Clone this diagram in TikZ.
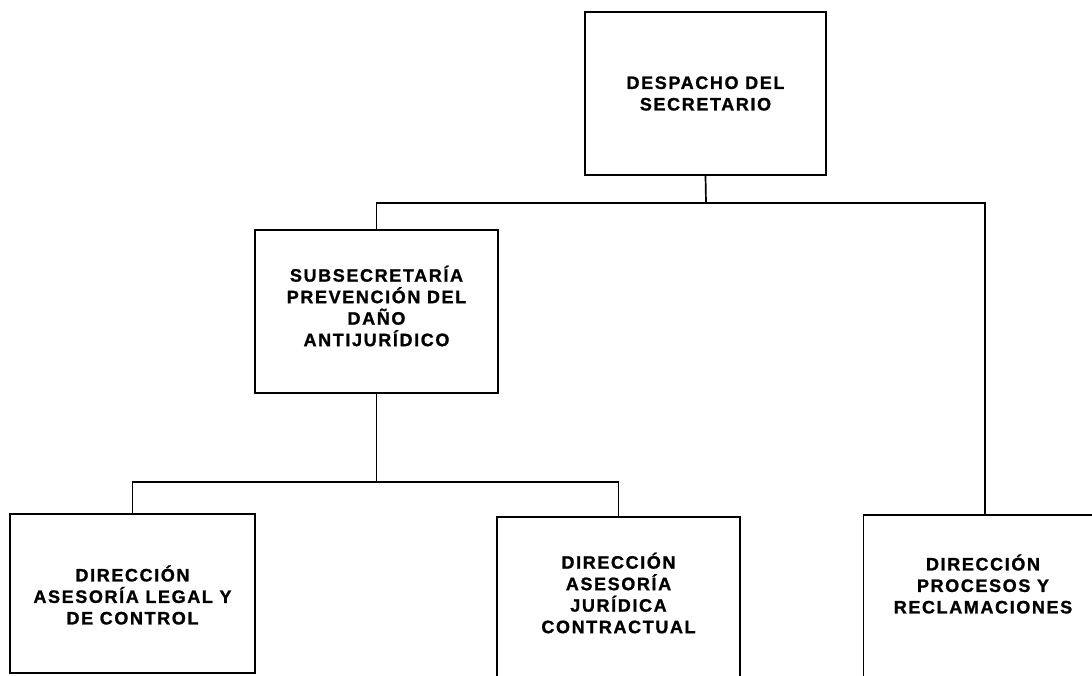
\documentclass[tikz,border=0pt]{standalone}
\usepackage{fontspec}
\newfontfamily\boxfont[LetterSpace=9,FakeBold=1.2]{Liberation Sans}
\begin{document}
\begin{tikzpicture}[x=1pt,y=-1pt,
  box/.style={draw=black, line width=1.7pt, rectangle, inner sep=0pt},
  txt/.style={align=center, font=\boxfont\bfseries\fontsize{18}{21.5}\selectfont, inner sep=0pt},
  link/.style={draw=black, line width=1.7pt}]
\useasboundingbox (0,0) rectangle (1092,675);
\clip (0,0) rectangle (1092,675);
% boxes
\node[box, minimum width=241pt, minimum height=163pt] (top) at (705.5,93.5) {};
\node[txt] (toptxt) at (705.5,93.5) {DESPACHO DEL\\SECRETARIO};
\node[box, minimum width=243pt, minimum height=163pt] (sub) at (376.5,311.5) {};
\node[txt] (subtxt) at (376.5,306) {SUBSECRETARÍA\\PREVENCIÓN DEL\\DAÑO\\ANTIJURÍDICO};
\node[box, minimum width=245pt, minimum height=159pt] (l) at (132.5,593.5) {};
\node[txt] (ltxt) at (132.5,595) {DIRECCIÓN\\ASESORÍA LEGAL Y\\DE CONTROL};
\node[box, minimum width=243pt, minimum height=170pt] (m) at (618.5,602) {};
\node[txt] (mtxt) at (618.5,593) {DIRECCIÓN\\ASESORÍA\\JURÍDICA\\CONTRACTUAL};
\node[box, minimum width=243pt, minimum height=170pt] (r) at (985,600) {};
\node[txt] (rtxt) at (983,584) {DIRECCIÓN\\PROCESOS Y\\RECLAMACIONES};
% junctions
\coordinate (j1) at (706,203);
\coordinate (j2) at (376.5,482);
% connectors
\draw[link] (top.south) -- (j1);
\draw[link] (sub.north) |- (j1) -| (r.north);
\draw[link] (sub.south) -- (j2);
\draw[link] (l.north) |- (j2) -| (m.north);
\end{tikzpicture}
\end{document}
